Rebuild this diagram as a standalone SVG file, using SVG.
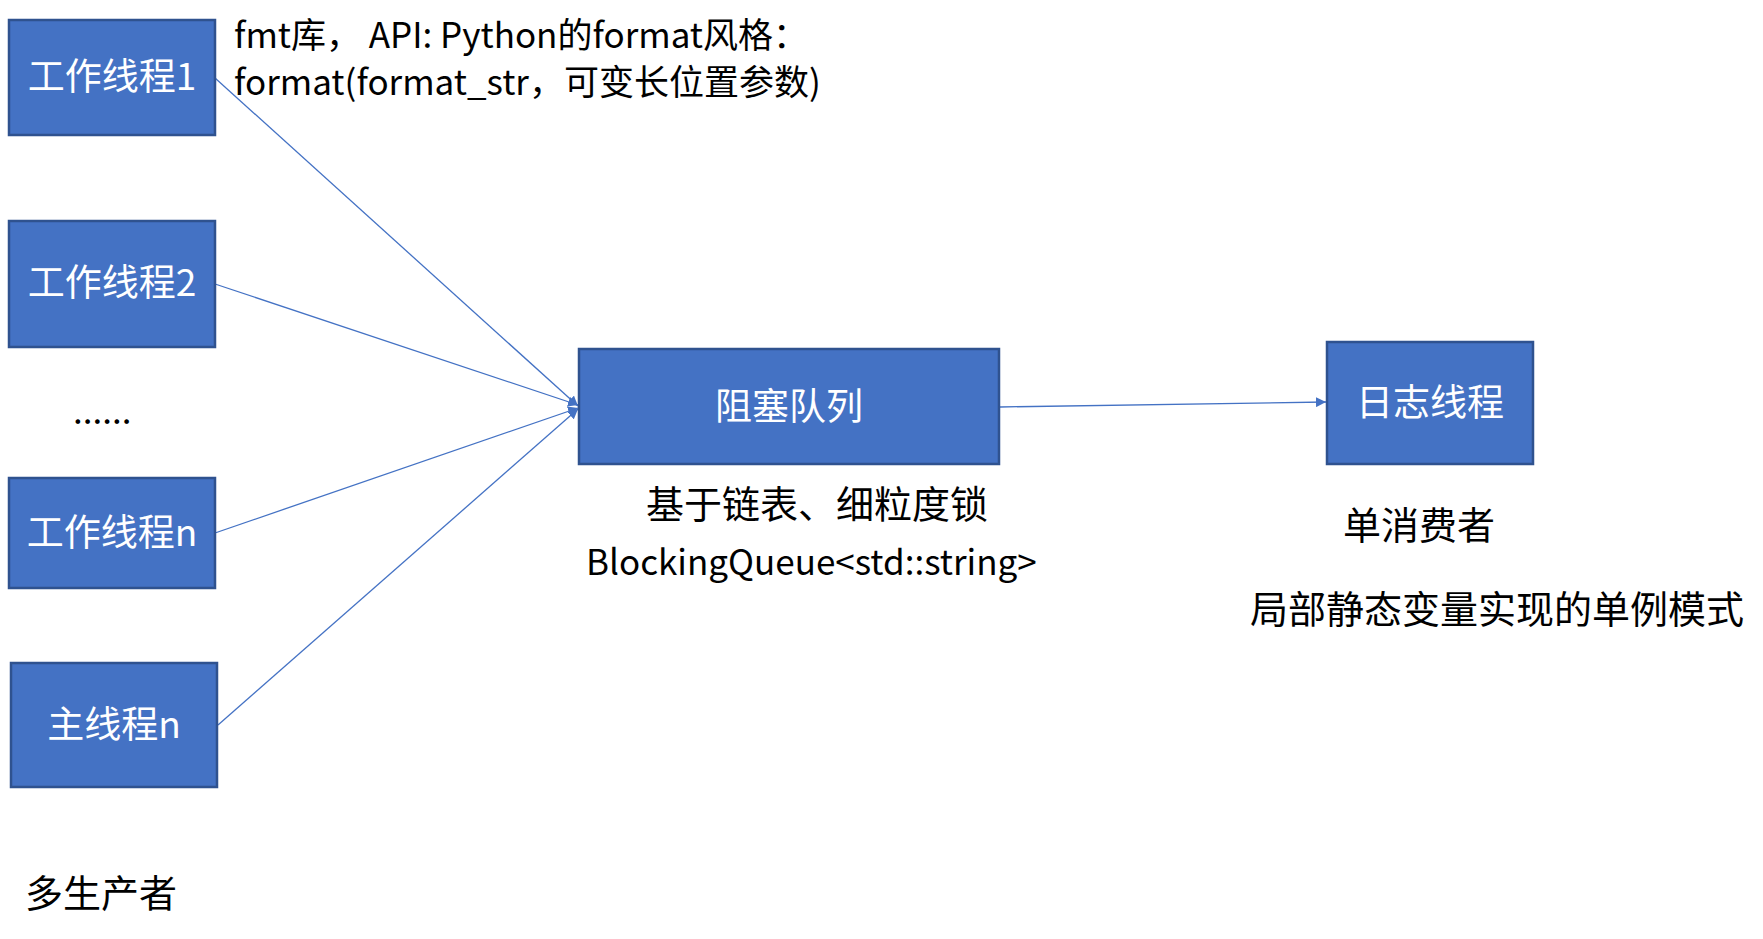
<svg xmlns="http://www.w3.org/2000/svg" width="1763" height="939" viewBox="0 0 1763 939">
<defs>
<style>
.box{fill:#4472C4;stroke:#2F528F;stroke-width:2.5}
.lbl{fill:#FFFFFF;font-family:"Microsoft YaHei","Noto Sans CJK SC","Noto Sans",sans-serif;font-size:37px;text-anchor:middle}
.txt{fill:#000000;font-family:"Microsoft YaHei","Noto Sans CJK SC","Noto Sans",sans-serif;font-size:38px}
.note{font-size:35px}
.conn{stroke:#4472C4;stroke-width:1.3;fill:none;marker-end:url(#arr)}
</style>
<marker id="arr" viewBox="0 0 10 10" refX="10" refY="5" markerWidth="10" markerHeight="10" markerUnits="userSpaceOnUse" orient="auto">
<path d="M0,0 L10,5 L0,10 z" fill="#4472C4"/>
</marker>
</defs>
<rect width="1763" height="939" fill="#FFFFFF"/>
<g id="connectors">
<line class="conn" x1="215" y1="78" x2="578" y2="406"/>
<line class="conn" x1="215" y1="284" x2="578" y2="405"/>
<line class="conn" x1="215" y1="533" x2="578" y2="408"/>
<line class="conn" x1="218" y1="725" x2="578" y2="409"/>
<line class="conn" x1="1000" y1="407" x2="1326" y2="402"/>
</g>
<g id="worker1">
<rect class="box" x="9" y="20" width="206" height="115"/>
<text class="lbl" x="112" y="90">工作线程1</text>
</g>
<g id="worker2">
<rect class="box" x="9" y="221" width="206" height="126"/>
<text class="lbl" x="112" y="296">工作线程2</text>
</g>
<g id="ellipsis">
<text class="txt note" x="73" y="424">......</text>
</g>
<g id="workern">
<rect class="box" x="9" y="478" width="206" height="110"/>
<text class="lbl" x="112" y="546">工作线程n</text>
</g>
<g id="mainthread">
<rect class="box" x="11" y="663" width="206" height="124"/>
<text class="lbl" x="114" y="738">主线程n</text>
</g>
<g id="queue">
<rect class="box" x="579" y="349" width="420" height="115"/>
<text class="lbl" x="789" y="420">阻塞队列</text>
</g>
<g id="logthread">
<rect class="box" x="1327" y="342" width="206" height="122"/>
<text class="lbl" x="1430" y="416">日志线程</text>
</g>
<g id="notes">
<text class="txt note" x="234" y="48">fmt库，  API: Python的format风格：</text>
<text class="txt note" x="234" y="95">format(format_str，可变长位置参数)</text>
<text class="txt" x="25" y="907">多生产者</text>
<text class="txt" x="646" y="518">基于链表、细粒度锁</text>
<text class="txt note" x="586" y="575">BlockingQueue&lt;std::string&gt;</text>
<text class="txt" x="1343" y="539">单消费者</text>
<text class="txt" x="1250" y="623">局部静态变量实现的单例模式</text>
</g>
</svg>
